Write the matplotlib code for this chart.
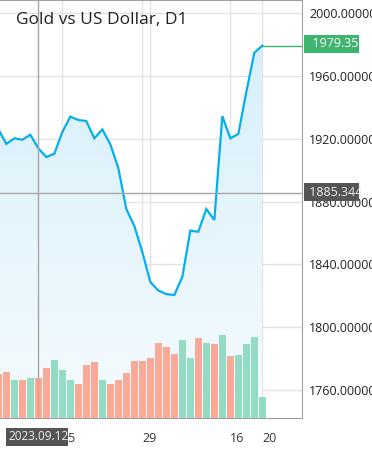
import numpy as np
import matplotlib.pyplot as plt
from matplotlib.colors import LinearSegmentedColormap
from matplotlib.patches import Rectangle

plt.rcParams['font.family'] = ['Open Sans', 'DejaVu Sans']

# daily bars, XAUUSD D1
dates = ['2023.09.05', '2023.09.06', '2023.09.07', '2023.09.08',
         '2023.09.11', '2023.09.12', '2023.09.13', '2023.09.14', '2023.09.15',
         '2023.09.18', '2023.09.19', '2023.09.20', '2023.09.21', '2023.09.22',
         '2023.09.25', '2023.09.26', '2023.09.27', '2023.09.28', '2023.09.29',
         '2023.10.02', '2023.10.03', '2023.10.04', '2023.10.05', '2023.10.06',
         '2023.10.09', '2023.10.10', '2023.10.11', '2023.10.12', '2023.10.13',
         '2023.10.16', '2023.10.17', '2023.10.18', '2023.10.19', '2023.10.20']
close = [1926.2, 1916.7, 1920.3, 1919.4, 1922.6, 1913.9, 1908.4, 1910.5, 1924.3,
         1934.1, 1932.0, 1931.3, 1920.3, 1926.0, 1916.5, 1901.4, 1875.3, 1864.5,
         1847.9, 1828.8, 1823.4, 1821.1, 1820.5, 1832.0, 1861.5, 1860.8, 1875.3,
         1868.3, 1934.5, 1920.3, 1923.1, 1949.8, 1974.8, 1979.35]
volume = [44300, 46000, 38000, 38000, 40000, 40000, 50000, 58000, 48000,
          38000, 34000, 53000, 56000, 38000, 34000, 38000, 45000, 57000,
          57000, 60000, 75000, 71000, 64000, 78000, 60000, 80000, 75000,
          74000, 83000, 62000, 63000, 74000, 81000, 21000]
prev_close = 1940.0

tick_dates = ['2023.09.15', '2023.09.29', '2023.10.02', '2023.10.16', '2023.10.20']
tick_labels = ['15', '29', '', '16', '20']
price_ticks = [1760, 1800, 1840, 1880, 1920, 1960, 2000]

cross_date = '2023.09.12'
cross_price = 1885.344

W, H = 372, 453
fig = plt.figure(figsize=(W / 100, H / 100), dpi=100)
ax = fig.add_axes([0, 35 / H, 302 / W, 418 / H])

x = np.arange(len(dates))
xmin, xmax = 0.21, 37.96
ymin, ymax = 1742.2, 2008.4

# gradient area under the line
cmap = LinearSegmentedColormap.from_list('area', ['#f6fbfe', '#d3eefa'])
grad = np.linspace(0, 1, 256).reshape(-1, 1)
im = ax.imshow(grad, aspect='auto', cmap=cmap, origin='lower',
               extent=[xmin, xmax, ymin, ymax], zorder=1)
area = ax.fill_between(x, close, ymin, color='none', lw=0)
im.set_clip_path(area.get_paths()[0], ax.transData)

ax.plot(x, close, color='#05aeee', lw=1.6, zorder=3, solid_joinstyle='miter')
ax.plot([x[-1], xmax], [close[-1], close[-1]], color='#3cb371', lw=1, zorder=3)

# crosshair
ci = dates.index(cross_date)
ax.axvline(ci, color='#a6a6a6', lw=1, zorder=4)
ax.axhline(cross_price, color='#a6a6a6', lw=1, zorder=4)

ax.set_xlim(xmin, xmax)
ax.set_ylim(ymin, ymax)
ax.set_xticks([dates.index(d) for d in tick_dates])
ax.set_xticklabels(tick_labels, ha='left')
ax.tick_params(axis='x', length=0, pad=10, labelsize=9, labelcolor='#333333')
ax.grid(True, color='#e2e2e2', lw=1, zorder=0)
ax.set_axisbelow(True)
for s in ['top', 'right', 'bottom']:
    ax.spines[s].set_color('#a0a0a0')
ax.spines['left'].set_visible(False)

# volume bars on their own scale
ax2 = ax.twinx()
up = np.diff([prev_close] + close) >= 0
bar_colors = ['#7cd4b5' if u else '#f9977e' for u in up]
ax2.bar(x, volume, width=0.83, color=bar_colors, alpha=0.8, lw=0)
ax2.set_ylim(0, 418000)
ax2.set_yticks([])
for s in ax2.spines.values():
    s.set_visible(False)
ax2.set_xlim(xmin, xmax)

# price scale on the right (after twinx, which moves ticks left)
ax.set_yticks(price_ticks)
ax.set_yticklabels(['%.5f' % p for p in price_ticks])
ax.yaxis.tick_right()
ax.tick_params(axis='y', length=0, pad=5, labelsize=9, labelcolor='#222222')

fig.text(16 / W, 1 - 20 / H, 'Gold vs US Dollar, D1', fontsize=12.5,
         color='#222222', va='center', ha='left')


def label_box(x0, y0, x1, y1, text, fc, tc, size=9):
    fig.add_artist(Rectangle((x0 / W, 1 - y1 / H), (x1 - x0) / W, (y1 - y0) / H,
                             transform=fig.transFigure, facecolor=fc, lw=0, zorder=5))
    fig.text((x0 + 2) / W, 1 - (y0 + y1) / 2 / H, text, fontsize=size, color=tc,
             va='center', ha='left', zorder=6)


label_box(304, 35, 359, 52.5, '  %.2f' % close[-1], '#3db56e', 'white')
label_box(304, 183, 359, 201, ' %.3f' % cross_price, '#555555', '#eeeeee')
label_box(6, 428, 68, 446, cross_date, '#555555', '#eeeeee', size=8.5)

fig.savefig('out.png', dpi=100)
